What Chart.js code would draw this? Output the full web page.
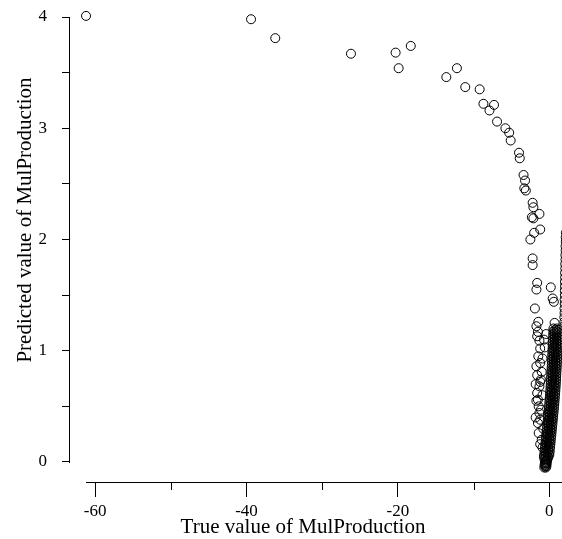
<!DOCTYPE html>
<html>
<head>
<meta charset="utf-8">
<script src="https://cdn.jsdelivr.net/npm/chart.js@4.4.1/dist/chart.umd.min.js"></script>
<style>
  html, body { margin: 0; padding: 0; background: #fff; }
  #wrap { width: 562px; height: 539px; }
</style>
</head>
<body>
<div id="wrap"><canvas id="myChart"></canvas></div>
<script>
// sparse arc of points, far from zero
const arcTrue = [-61.2, -39.4, -36.2, -26.2, -20.3, -19.9, -18.3, -13.6, -12.2, -11.1,
  -9.2, -8.7, -7.3, -7.9, -6.9, -5.8, -5.3, -5.1, -4.0, -3.9,
  -3.4, -3.2, -3.1, -3.3, -2.2, -2.1, -2.3, -1.3, -2.1, -1.2,
  -2.0, -2.5, -2.2];
const arcPred = [4.01, 3.98, 3.81, 3.67, 3.68, 3.54, 3.74, 3.46, 3.54, 3.37,
  3.35, 3.22, 3.21, 3.16, 3.06, 3.00, 2.96, 2.89, 2.78, 2.73,
  2.58, 2.53, 2.44, 2.46, 2.33, 2.29, 2.20, 2.23, 2.19, 2.09,
  2.06, 2.00, 1.83];

// loose points just left of zero
const nearTrue = [-2.2, -1.6, -1.7, 0.2, 0.45, 0.6, -1.9, 0.7, -1.45, -1.7,
  -1.5, -1.6, -1.3, -1.2, -1.45, -1.2, -1.7, -1.0, -1.1, -1.3,
  -1.6, -1.5, -1.4, -1.3, -1.2, -1.5, -1.4, -1.0, -0.9, -0.7,
  -1.2, -0.9, -1.1, -0.8, -1.6, -1.8, -1.7, -1.8, -1.2, -0.6,
  -0.9, -0.4, -0.7];
const nearPred = [1.77, 1.61, 1.55, 1.57, 1.47, 1.44, 1.38, 1.25, 1.26, 1.22,
  1.17, 1.13, 1.09, 1.02, 0.95, 0.89, 0.86, 0.81, 0.74, 0.68,
  0.62, 0.56, 0.50, 0.44, 0.38, 0.35, 0.26, 0.20, 0.13, 0.05,
  0.72, 0.60, 0.47, 0.30, 0.78, 0.70, 0.55, 0.40, 0.16, 1.03,
  0.93, 1.15, 1.10];

// dense band around zero, read as four overlapping strands
const bandTrueA = [-0.66, -0.62, -0.58, -0.64, -0.68, -0.65, -0.61, -0.57, -0.54, -0.50,
  -0.46, -0.42, -0.39, -0.35, -0.31, -0.28, -0.24, -0.21, -0.17, -0.14,
  -0.10, -0.07, -0.03, 0.00, 0.03, 0.06, 0.09, 0.12, 0.14, 0.17,
  0.19, 0.21, 0.23, 0.25, 0.27, 0.29, 0.31, 0.33, 0.35, 0.37,
  0.39, 0.40, 0.42, 0.44, 0.46, 0.47, 0.49, 0.51, 0.52, 0.54, 0.55];
const bandTrueC = [-0.45, -0.41, -0.37, -0.31, -0.24, -0.21, -0.17, -0.13, -0.10, -0.06,
  -0.02, 0.02, 0.06, 0.09, 0.13, 0.17, 0.20, 0.24, 0.27, 0.31,
  0.34, 0.38, 0.41, 0.44, 0.47, 0.50, 0.53, 0.56, 0.58, 0.61,
  0.63, 0.65, 0.67, 0.69, 0.71, 0.73, 0.75, 0.77, 0.79, 0.81,
  0.83, 0.84, 0.86, 0.88, 0.90, 0.91, 0.93, 0.95, 0.96, 0.98, 0.99];
const bandPredAC = [-0.05, -0.025, 0, 0.025, 0.05, 0.075, 0.1, 0.125, 0.15, 0.175,
  0.2, 0.225, 0.25, 0.275, 0.3, 0.325, 0.35, 0.375, 0.4, 0.425,
  0.45, 0.475, 0.5, 0.525, 0.55, 0.575, 0.6, 0.625, 0.65, 0.675,
  0.7, 0.725, 0.75, 0.775, 0.8, 0.825, 0.85, 0.875, 0.9, 0.925,
  0.95, 0.975, 1.0, 1.025, 1.05, 1.075, 1.1, 1.125, 1.15, 1.175, 1.2];
const bandTrueB = [-0.55, -0.51, -0.47, -0.48, -0.44, -0.41, -0.37, -0.33, -0.30, -0.26,
  -0.22, -0.18, -0.15, -0.11, -0.07, -0.04, 0.00, 0.04, 0.07, 0.11,
  0.14, 0.18, 0.21, 0.24, 0.27, 0.30, 0.33, 0.36, 0.38, 0.41,
  0.43, 0.45, 0.47, 0.49, 0.51, 0.53, 0.55, 0.57, 0.59, 0.61,
  0.63, 0.64, 0.66, 0.68, 0.70, 0.71, 0.73, 0.75, 0.76, 0.78];
const bandTrueD = [-0.38, -0.34, -0.30, -0.14, 0.00, 0.04, 0.07, 0.11, 0.15, 0.18,
  0.22, 0.26, 0.30, 0.33, 0.37, 0.41, 0.44, 0.48, 0.51, 0.55,
  0.58, 0.62, 0.65, 0.68, 0.71, 0.74, 0.77, 0.80, 0.82, 0.85,
  0.87, 0.89, 0.91, 0.93, 0.95, 0.97, 0.99, 1.01, 1.03, 1.05,
  1.07, 1.08, 1.10, 1.12, 1.14, 1.15, 1.17, 1.19, 1.20, 1.22];
const bandPredBD = [-0.038, -0.013, 0.013, 0.038, 0.063, 0.088, 0.113, 0.138, 0.163, 0.188,
  0.213, 0.238, 0.263, 0.288, 0.313, 0.338, 0.363, 0.388, 0.413, 0.438,
  0.463, 0.488, 0.513, 0.538, 0.563, 0.588, 0.613, 0.638, 0.663, 0.688,
  0.713, 0.738, 0.763, 0.788, 0.813, 0.838, 0.863, 0.888, 0.913, 0.938,
  0.963, 0.988, 1.013, 1.038, 1.063, 1.088, 1.113, 1.138, 1.163, 1.188];

// points just past the right edge, only their left rims show
const edgeTrue = [1.97, 2.00, 1.99, 2.02, 2.01, 2.04, 2.03, 2.06, 2.05, 2.08,
  2.07, 2.10, 2.09, 2.12, 2.11, 2.14, 2.13, 2.16, 2.15, 2.18, 2.17, 2.19];
const edgePred = [1.22, 1.26, 1.30, 1.34, 1.38, 1.42, 1.46, 1.50, 1.54, 1.58,
  1.62, 1.66, 1.70, 1.74, 1.78, 1.82, 1.86, 1.90, 1.94, 1.98, 2.02, 2.06];

const xLabels = [-60, -40, -20, 0];
const yLabels = [0, 1, 2, 3, 4];

const toPoints = (xs, ys) => xs.map((v, i) => ({ x: v, y: ys[i] }));
const points = [].concat(
  toPoints(arcTrue, arcPred),
  toPoints(nearTrue, nearPred),
  toPoints(bandTrueA, bandPredAC),
  toPoints(bandTrueB, bandPredBD),
  toPoints(bandTrueC, bandPredAC),
  toPoints(bandTrueD, bandPredBD),
  toPoints(edgeTrue, edgePred)
);

const serif = '"Liberation Serif", "Times New Roman", serif';

// axis lines that stop at the tick range, short minor ticks and titles
const axisDecor = {
  id: "axisDecor",
  afterDraw(chart) {
    const { ctx, chartArea } = chart;
    const x = chart.scales.x;
    const y = chart.scales.y;
    ctx.save();
    ctx.fillStyle = "#000";
    const left = Math.round(chartArea.left);
    const bottom = Math.round(chartArea.bottom);
    const y0 = Math.round(y.getPixelForValue(0));
    const y4 = Math.round(y.getPixelForValue(4));
    ctx.fillRect(left, y4, 1, y0 - y4 + 1);
    const x0 = Math.round(x.getPixelForValue(-61.2));
    ctx.fillRect(x0, bottom - 1, chartArea.right - x0, 1);
    x.ticks.forEach((t) => {
      if (t.value % 20 !== 0) {
        const px = Math.round(x.getPixelForValue(t.value));
        ctx.fillRect(px, bottom, 1, 7);
      }
    });

    ctx.font = "21px " + serif;
    ctx.textAlign = "center";
    ctx.textBaseline = "middle";
    ctx.fillText("True value of MulProduction", 303, 527);
    ctx.translate(25, 220);
    ctx.rotate(-Math.PI / 2);
    ctx.fillText("Predicted value of MulProduction", 0, 0);
    ctx.restore();
  },
};

const config = {
  type: "scatter",
  data: {
    datasets: [
      {
        label: "MulProduction",
        data: points,
        pointStyle: "circle",
        pointRadius: 4.5,
        pointBorderWidth: 1,
        pointBorderColor: "#000",
        pointBackgroundColor: "rgba(0,0,0,0)",
      },
    ],
  },
  options: {
    responsive: true,
    maintainAspectRatio: false,
    animation: false,
    layout: { padding: 0, autoPadding: false },
    plugins: {
      legend: { display: false },
      tooltip: { enabled: false },
    },
    scales: {
      x: {
        type: "linear",
        min: -63.45,
        max: 1.68,
        border: { display: false },
        grid: {
          drawOnChartArea: false,
          drawTicks: true,
          tickLength: 14,
          tickWidth: 1,
          tickColor: (c) => (c.tick && c.tick.value % 20 === 0 ? "#000" : "rgba(0,0,0,0)"),
        },
        ticks: {
          stepSize: 10,
          includeBounds: false,
          autoSkip: false,
          maxRotation: 0,
          padding: 4,
          color: "#000",
          font: { family: serif, size: 17 },
          callback: (v) => (xLabels.includes(v) ? String(v) : ""),
        },
        afterFit: (s) => {
          s.height = 56;
          s.paddingLeft = 0;
          s.paddingRight = 0;
        },
      },
      y: {
        type: "linear",
        min: -0.189,
        max: 4.153,
        border: { display: false },
        grid: {
          drawOnChartArea: false,
          drawTicks: true,
          tickLength: 7,
          tickWidth: 1,
          tickColor: "#000",
        },
        ticks: {
          stepSize: 0.5,
          includeBounds: false,
          autoSkip: false,
          padding: 15,
          color: "#000",
          font: { family: serif, size: 17 },
          callback: (v) => (yLabels.includes(v) ? String(v) : ""),
        },
        afterFit: (s) => {
          s.width = 69;
          s.paddingTop = 0;
          s.paddingBottom = 0;
        },
      },
    },
  },
  plugins: [axisDecor],
};

const myChart = new Chart(document.getElementById("myChart"), config);
</script>
</body>
</html>
